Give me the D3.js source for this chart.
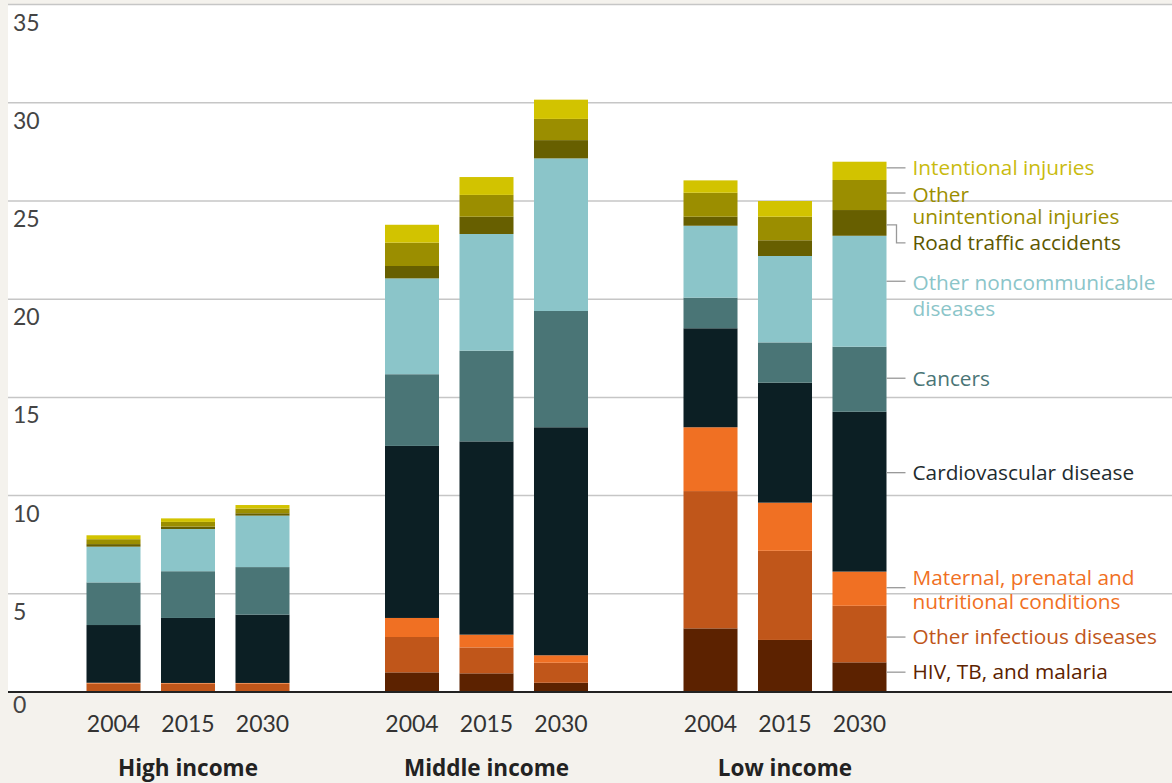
<!DOCTYPE html>
<html>
<head>
<meta charset="utf-8">
<script src="https://cdn.jsdelivr.net/npm/d3@7"></script>
<style>
	body { margin: 0; background: #f4f2ed; }
	svg { display: block; }
	text { font-family: Lato, "Open Sans", sans-serif; }
	.lletra { font-family: "Open Sans", Lato, sans-serif; }
</style>
</head>
<body>
<div id="món"></div>
<script>
// dades llegides del gràfic (milions de morts)
const grups = ['High income', 'Middle income', 'Low income'];
const anys = ['2004', '2015', '2030'];
const causes = [
	'HIV, TB, and malaria',
	'Other infectious diseases',
	'Maternal, prenatal and nutritional conditions',
	'Cardiovascular disease',
	'Cancers',
	'Other noncommunicable diseases',
	'Road traffic accidents',
	'Other unintentional injuries',
	'Intentional injuries'
];
// ordre: High 2004, 2015, 2030, Middle 2004, 2015, 2030, Low 2004, 2015, 2030
const hivTbMalaria    = [0.03, 0.03, 0.03, 1.00, 0.95, 0.47, 3.24, 2.65, 1.51];
const altresInfeccions = [0.40, 0.40, 0.40, 1.80, 1.32, 1.02, 6.99, 4.54, 2.88];
const maternes        = [0.04, 0.03, 0.03, 0.97, 0.65, 0.38, 3.25, 2.45, 1.74];
const cardio          = [2.94, 3.31, 3.48, 8.76, 9.84, 11.61, 5.04, 6.11, 8.14];
const cancers         = [2.17, 2.38, 2.42, 3.65, 4.62, 5.92, 1.56, 2.05, 3.31];
const altresNoTrans   = [1.82, 2.15, 2.62, 4.88, 5.94, 7.77, 3.66, 4.40, 5.65];
const transit         = [0.13, 0.12, 0.12, 0.63, 0.88, 0.93, 0.46, 0.80, 1.31];
const altresLesions   = [0.25, 0.24, 0.24, 1.19, 1.11, 1.08, 1.22, 1.20, 1.53];
const intencionals    = [0.20, 0.18, 0.18, 0.91, 0.91, 0.98, 0.63, 0.80, 0.93];
const valorsY = [0, 5, 10, 15, 20, 25, 30, 35];

const sèries = [hivTbMalaria, altresInfeccions, maternes, cardio, cancers,
	altresNoTrans, transit, altresLesions, intencionals];

const colors = ['#5c2200', '#c0561a', '#f07023', '#0c1f24', '#4a7576',
	'#8bc5c9', '#675f00', '#9b8e00', '#d2c300'];
const colorsText = ['#5c2200', '#c0561a', '#f07023', '#1e2b2f', '#4a7576',
	'#8bc5c9', '#5c5700', '#9b8e00', '#c9bb10'];

// etiquetes de la llegenda: línies de text, ajust vertical (px) i interlineat
const llegenda = [
	{ línies: ['HIV, TB, and malaria'], ajust: -5, text: 0, inter: 24 },
	{ línies: ['Other infectious diseases'], ajust: 3, text: 0, inter: 24 },
	{ línies: ['Maternal, prenatal and', 'nutritional conditions'], ajust: -1, text: -10, inter: 24 },
	{ línies: ['Cardiovascular disease'], ajust: -19, text: 0, inter: 24 },
	{ línies: ['Cancers'], ajust: -1, text: 0, inter: 24 },
	{ línies: ['Other noncommunicable', 'diseases'], ajust: -10, text: 1, inter: 26 },
	{ línies: ['Road traffic accidents'], ajust: 2, text: 18, inter: 24 },
	{ línies: ['Other', 'unintentional injuries'], ajust: -2, text: 2, inter: 22 },
	{ línies: ['Intentional injuries'], ajust: -3, text: 0, inter: 24 }
];

const Amplada = 1172, Alçada = 783;
const taula = [];
grups.forEach((g, i) => {
	anys.forEach((a, j) => {
		const fila = { grup: g, any: a };
		causes.forEach((c, k) => { fila[c] = sèries[k][i * 3 + j]; });
		taula.push(fila);
	});
});
const pila = d3.stack().keys(causes)(taula);

const svg = d3.select('#món').append('svg')
	.attr('width', Amplada)
	.attr('height', Alçada);

// zona blanca del gràfic
const y = d3.scaleLinear().domain([0, 35]).range([692, 4.6]);
svg.append('rect')
	.attr('x', 8).attr('y', y(35))
	.attr('width', Amplada - 8).attr('height', y(0) - y(35))
	.attr('fill', '#fff');

const x0 = d3.scaleBand().domain(grups).range([38.75, 934.25]);
const x1 = d3.scaleBand().domain(anys).range([0, x0.bandwidth()])
	.paddingInner(0.275).paddingOuter(0.641);

// línies de graella
svg.append('g').selectAll('line')
	.data(valorsY.filter(v => v > 0))
	.join('line')
		.attr('x1', 8).attr('x2', Amplada)
		.attr('y1', d => y(d)).attr('y2', d => y(d))
		.attr('stroke', '#c6c6c6')
		.attr('stroke-width', 1.5);

svg.append('g').selectAll('text')
	.data(valorsY)
	.join('text')
		.attr('x', 13)
		.attr('y', d => y(d) + (d === 0 ? 21 : 26))
		.attr('font-size', 23)
		.attr('fill', '#444')
		.text(d => d);

// barres apilades
svg.append('g').selectAll('g')
	.data(pila)
	.join('g')
		.attr('fill', (d, i) => colors[i])
	.selectAll('rect')
	.data(d => d)
	.join('rect')
		.attr('x', d => x0(d.data.grup) + x1(d.data.any))
		.attr('y', d => y(d[1]))
		.attr('width', x1.bandwidth())
		.attr('height', d => y(d[0]) - y(d[1]));

// línia de base
svg.append('line')
	.attr('x1', 8).attr('x2', Amplada)
	.attr('y1', y(0)).attr('y2', y(0))
	.attr('stroke', '#222')
	.attr('stroke-width', 2);

// etiquetes eix x
svg.append('g').selectAll('text')
	.data(taula)
	.join('text')
		.attr('x', d => x0(d.grup) + x1(d.any) + x1.bandwidth() / 2)
		.attr('y', 732)
		.attr('text-anchor', 'middle')
		.attr('font-size', 23)
		.attr('fill', '#333')
		.text(d => d.any);

svg.append('g').selectAll('text')
	.data(grups)
	.join('text')
		.attr('class', 'lletra')
		.attr('x', d => x0(d) + x0.bandwidth() / 2)
		.attr('y', 776)
		.attr('text-anchor', 'middle')
		.attr('font-size', 22.5)
		.attr('font-weight', 'bold')
		.attr('fill', '#222')
		.text(d => d);

// llegenda a la dreta de l'última barra
const darrera = taula.length - 1;
const xBarra = x0(grups[2]) + x1(anys[2]) + x1.bandwidth();
const xText = xBarra + 26;
const lleg = svg.append('g');
pila.forEach((s, i) => {
	const seg = s[darrera];
	const yl = (y(seg[0]) + y(seg[1])) / 2 + llegenda[i].ajust;
	const yt = yl + llegenda[i].text;
	if (llegenda[i].text > 5) {
		// línia en colze
		lleg.append('path')
			.attr('d', `M${xBarra},${yl}H${xBarra + 10}V${yt}H${xText - 7}`)
			.attr('fill', 'none')
			.attr('stroke', '#999')
			.attr('stroke-width', 1.3);
	} else {
		lleg.append('line')
			.attr('x1', xBarra).attr('x2', xText - 7)
			.attr('y1', yl).attr('y2', yl)
			.attr('stroke', '#999')
			.attr('stroke-width', 1.3);
	}
	// cada línia de text és un text a part
	llegenda[i].línies.forEach((l, k) => {
		lleg.append('text')
			.attr('class', 'lletra')
			.attr('x', xText)
			.attr('y', yt + k * llegenda[i].inter)
			.attr('dy', '0.35em')
			.attr('font-size', 20.8)
			.attr('fill', colorsText[i])
			.text(l);
	});
});
</script>
</body>
</html>
